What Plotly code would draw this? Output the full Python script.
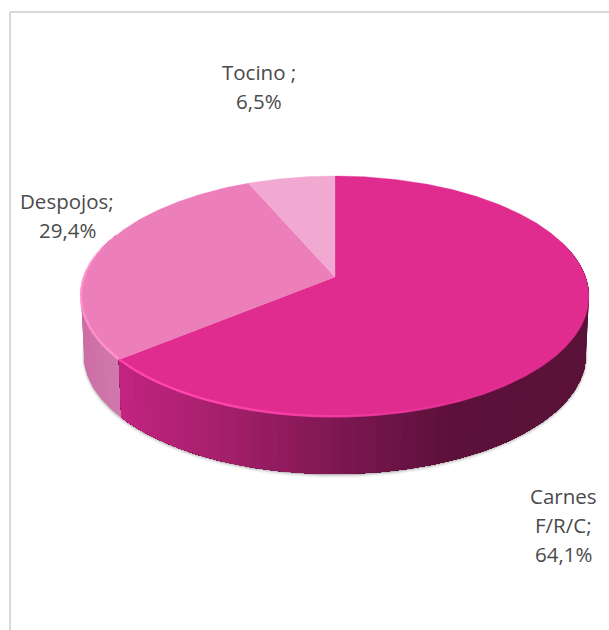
import math
import plotly.graph_objects as go

# ---- data ----
categories = ["Carnes F/R/C", "Despojos", "Tocino"]
values = [64.1, 29.4, 6.5]
label_lines = [["Carnes", "F/R/C;", "64,1%"], ["Despojos;", "29,4%"], ["Tocino ;", "6,5%"]]

# ---- styles ----
TOP = ["#E02C8F", "#EC7EBA", "#F2A9D1"]
RIM = [(255, 70, 175), (255, 145, 205), (245, 175, 215)]
WALL_STOPS = [
    [(120, (194, 36, 128)), (230, (162, 31, 105)), (350, (122, 22, 80)), (450, (92, 17, 58)), (600, (90, 18, 56))],
    [(80, (205, 110, 165)), (125, (208, 122, 174))],
    [(80, (220, 150, 195)), (125, (220, 150, 195))],
]
LABEL_POS = [(563, [496, 525, 554]), (67, [201, 230]), (259, [72, 101])]
CX, AY = 335.0, 277.0          # apex of the pie on the canvas
A, B, K = 250.6, 117.4, 0.162  # perspective disc
WALL_SCALE, WALL_DROP = 0.988, 58.7
TEXT = "#4A4A4A"
FONT = "Open Sans"
FONT_SIZE = 20.5


def top_pt(theta):
    X, Y = math.sin(theta), math.cos(theta)
    d = 1 + K * Y
    return A * X / d, B * Y / d


def p_top(theta):
    x, y = top_pt(theta)
    return CX + x, AY - y


def p_bot(theta):
    x, y = top_pt(theta)
    return CX + x * WALL_SCALE, AY + WALL_DROP - y * WALL_SCALE


def lerp_color(stops, x):
    if x <= stops[0][0]:
        return stops[0][1]
    for (x0, c0), (x1, c1) in zip(stops, stops[1:]):
        if x <= x1:
            t = (x - x0) / (x1 - x0)
            return tuple(round(a + (b - a) * t) for a, b in zip(c0, c1))
    return stops[-1][1]


def rgb(c, a=None):
    return f"rgb{c}" if a is None else f"rgba({c[0]},{c[1]},{c[2]},{a})"


def poly(xs, ys, color, line=0.0):
    return go.Scatter(x=xs, y=ys, mode="lines", fill="toself", fillcolor=color,
                      line=dict(color=color, width=line), hoverinfo="skip", showlegend=False)


def arange(a, b, step):
    n = max(2, int(abs(b - a) / step) + 1)
    return [a + (b - a) * i / (n - 1) for i in range(n)]


total = sum(values)
edges = [0.0]
for v in values:
    edges.append(edges[-1] + v / total * 2 * math.pi)

fig = go.Figure()
vis_start, vis_end = math.radians(72), math.radians(292)

# soft shadow under the wall
shadow_th = arange(vis_start, vis_end, 0.02)
for w, a, dy in [(5, 0.06, 1.5), (3, 0.12, 1.0), (1.5, 0.22, 0.5)]:
    sx, sy = zip(*[p_bot(t) for t in shadow_th])
    fig.add_trace(go.Scatter(x=list(sx), y=[v + dy for v in sy], mode="lines",
                             line=dict(color=f"rgba(70,70,70,{a})", width=w),
                             hoverinfo="skip", showlegend=False))

# walls: back-most first; each band paints from its angle to the slice end,
# so the next band overdraws it and no seams show
for i, (a0, a1) in reversed(list(enumerate(zip(edges, edges[1:])))):
    s, e = max(a0, vis_start), min(a1, vis_end)
    if e <= s:
        continue
    grid = arange(s, e, 0.03)
    fine = arange(s, e, 0.01)
    for t0, t1 in zip(grid, grid[1:]):
        ts = [t0] + [t for t in fine if t > t0] + [e]
        top = [p_top(t) for t in ts]
        bot = [p_bot(t) for t in reversed(ts)]
        xs = [p[0] for p in top + bot] + [top[0][0]]
        ys = [p[1] for p in top + bot] + [top[0][1]]
        c = lerp_color(WALL_STOPS[i], (p_top(t0)[0] + p_top(t1)[0]) / 2)
        fig.add_trace(poly(xs, ys, rgb(c)))

# top faces
for i, (a0, a1) in enumerate(zip(edges, edges[1:])):
    pts = [p_top(t) for t in arange(a0, a1, 0.01)]
    xs = [CX] + [p[0] for p in pts] + [CX]
    ys = [AY] + [p[1] for p in pts] + [AY]
    fig.add_trace(poly(xs, ys, TOP[i], 0.3))

# bright bevel on the lit front-left of the rim, fading to the right
RIM_START, RIM_FULL, RIM_OUT, RIM_END = [math.radians(d) for d in (140, 205, 270, 295)]
for i, (a0, a1) in enumerate(zip(edges, edges[1:])):
    s, e = max(a0, RIM_START), min(a1, RIM_END)
    if e <= s:
        continue
    grid = arange(s, e, 0.03)
    for t0, t1 in zip(grid, grid[1:]):
        mid = (t0 + t1) / 2
        fade = min(1.0, max(0.0, (mid - RIM_START) / (RIM_FULL - RIM_START)))
        fade *= min(1.0, max(0.0, (RIM_END - mid) / (RIM_END - RIM_OUT)))
        if fade <= 0:
            continue
        pts = [p_top(t0), p_top(t1)]
        fig.add_trace(go.Scatter(x=[p[0] for p in pts], y=[p[1] - 0.8 for p in pts], mode="lines",
                                 line=dict(color=rgb(RIM[i], round(fade, 3)), width=2.4),
                                 hoverinfo="skip", showlegend=False))

annotations = []
for lines, (lx, lys) in zip(label_lines, LABEL_POS):
    for text, ly in zip(lines, lys):
        annotations.append(dict(x=lx, y=ly, xref="x", yref="y", text=text, showarrow=False,
                                xanchor="center", yanchor="middle",
                                font=dict(family=FONT, size=FONT_SIZE, color=TEXT)))

fig.update_layout(
    width=609, height=630, margin=dict(l=0, r=0, t=0, b=0),
    paper_bgcolor="white", plot_bgcolor="white", showlegend=False,
    xaxis=dict(range=[0, 609], visible=False, fixedrange=True),
    yaxis=dict(range=[630, 0], visible=False, fixedrange=True),
    annotations=annotations,
    shapes=[
        dict(type="line", xref="x", yref="y", x0=10, x1=10, y0=12, y1=630, line=dict(color="#D9D9D9", width=2)),
        dict(type="line", xref="x", yref="y", x0=10, x1=609, y0=12, y1=12, line=dict(color="#D9D9D9", width=2)),
    ],
)
fig.write_html("out.html", config={"displayModeBar": False},
               post_script="document.body.style.margin='0';document.body.style.overflow='hidden';")
